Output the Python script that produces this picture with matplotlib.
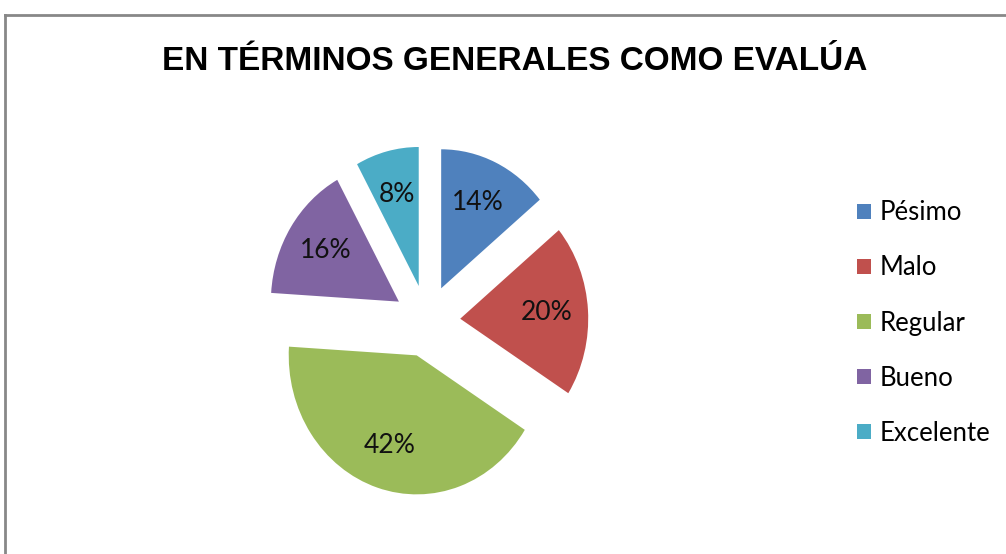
import matplotlib
matplotlib.use("Agg")
import matplotlib.pyplot as plt
from matplotlib.lines import Line2D

# data
categorias = ["Pésimo", "Malo", "Regular", "Bueno", "Excelente"]
porcentajes = [14, 20, 42, 16, 8]
colores = ["#4F81BD", "#C0504D", "#9BBB59", "#8064A2", "#4BACC6"]
titulo = "EN TÉRMINOS GENERALES COMO EVALÚA"

W, H = 1006, 554
fig = plt.figure(figsize=(W / 100, H / 100), dpi=100)

# pie centre and radii in pixels (image is slightly squashed horizontally)
cx, cy = 427, 321
rx, ry = 128, 139
left = cx - 2 * rx
right = cx + 2 * rx
top = cy - 1.6 * ry
bottom = cy + 1.6 * ry
ax = fig.add_axes([left / W, 1 - bottom / H, (right - left) / W, (bottom - top) / H])

wedges, texts, autotexts = ax.pie(
    porcentajes,
    colors=colores,
    explode=[0.26] * len(porcentajes),
    startangle=90,
    counterclock=False,
    autopct="%1.0f%%",
    pctdistance=0.68,
    wedgeprops=dict(linewidth=0),
    textprops=dict(fontsize=19, family="Lato", color="#111111"),
)
ax.set_aspect("auto")
ax.set_xlim(-2, 2)
ax.set_ylim(-1.6, 1.6)
ax.axis("off")

fig.text(515 / W, 1 - 61 / H, titulo, ha="center", va="center",
         fontsize=24, fontweight="bold", family="Liberation Sans")

leg = fig.legend(wedges, categorias, loc="center left",
                 bbox_to_anchor=(857 / W, 1 - 323 / H),
                 frameon=False, borderpad=0, borderaxespad=0,
                 handlelength=0.55, handleheight=0.55, handletextpad=0.35,
                 labelspacing=1.17, prop=dict(family="Lato", size=18.5))

# chart frame (only top and left edges visible in the crop)
fig.add_artist(Line2D([5 / W, 1], [1 - 15 / H, 1 - 15 / H], color="#888888", lw=2))
fig.add_artist(Line2D([5 / W, 5 / W], [0, 1 - 15 / H], color="#888888", lw=2))

fig.savefig("out.png", dpi=100)
